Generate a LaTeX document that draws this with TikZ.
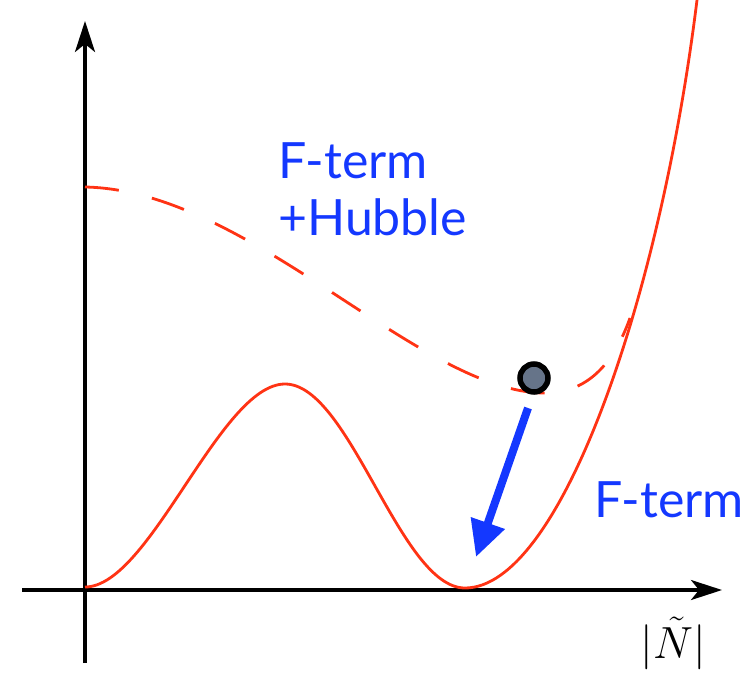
\RequirePackage{fix-cm}
\documentclass[tikz,border=0pt]{standalone}
\usepackage{fontspec}
\setmainfont{Lato}
\usetikzlibrary{arrows.meta}
\definecolor{cred}{HTML}{FF3314}
\definecolor{cblue}{HTML}{1438FF}
\definecolor{cball}{HTML}{667489}
\tikzset{
  axis/.style={line width=3.2pt,-{Stealth[length=31pt,width=20pt,inset=8pt]}},
  pot/.style={cred,line width=2.8pt},
  lbl/.style={cblue,font=\fontsize{50}{60}\selectfont,anchor=base west,inner sep=0pt}
}
\begin{document}
\begin{tikzpicture}[x=1pt,y=-1pt]
\useasboundingbox (0,0) rectangle (754,673);
\coordinate (yb) at (85,663);
\coordinate (yt) at (85,21);
\coordinate (xl) at (22,590);
\coordinate (xr) at (722,590);
\draw[axis] (yb) -- (yt);
\draw[axis] (xl) -- (xr);
% solid F-term potential
\draw[pot] (85,587) .. controls (150,587) and (220,384) .. (285,384)
  .. controls (350,384) and (400,588) .. (465,588)
  .. controls (560,588) and (660,300) .. (697,0);
% dashed F-term + Hubble potential
\draw[pot,dash pattern=on 34pt off 34pt] (85,187) .. controls (250,190) and (420,393) .. (545,393)
  .. controls (590,393) and (615,360) .. (630,318);
% ball
\node[circle,draw=black,fill=cball,line width=5.5pt,minimum size=28pt,inner sep=0pt] (ball) at (534,378) {};
\coordinate (as) at (528,408);
\coordinate (ae) at (476,557);
\draw[cblue,line width=8pt,-{Triangle[length=36pt,width=34pt]}] (as) -- (ae);
\node[lbl] (t1) at (278,178) {F-term};
\node[lbl] (t1b) at (278,235) {+Hubble};
\node[lbl] (t2) at (594,517) {F-term};
\node[font=\fontsize{45}{45}\selectfont,anchor=base,inner sep=0pt] (xn) at (673,658) {$|\tilde N|$};
\end{tikzpicture}
\end{document}
